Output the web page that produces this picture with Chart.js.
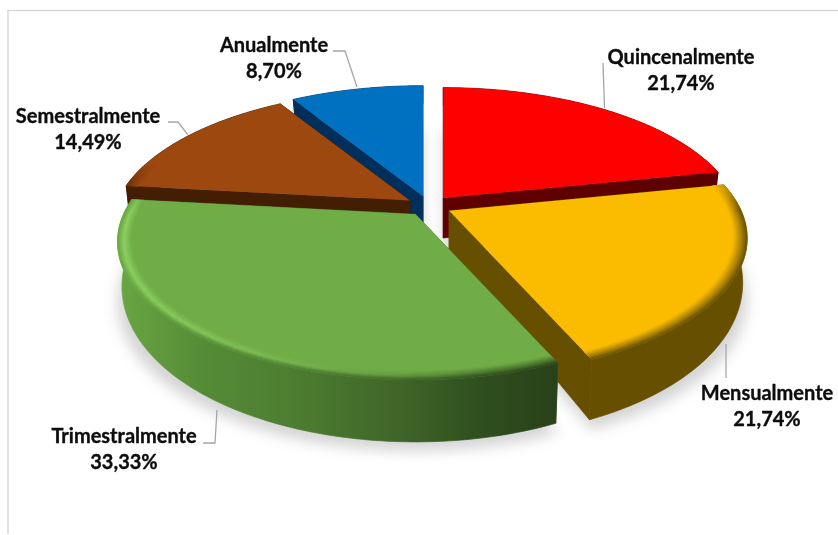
<!DOCTYPE html>
<html><head><meta charset="utf-8">
<style>html,body{margin:0;padding:0;background:#fff}#w{position:relative;width:838px;height:535px}</style>
<script src="https://cdn.jsdelivr.net/npm/chart.js@4"></script>
</head><body><div id="w"><canvas id="c" width="838" height="535"></canvas></div>
<script>
const categories = ['Quincenalmente','Mensualmente','Trimestralmente','Semestralmente','Anualmente'];
const percentages = [21.74,21.74,33.33,14.49,8.70];
const topColors = ['#ff0000','#fbbc00','#70ad47','#9c480f','#0070c0'];
const wallColors = ['#5e0000','#665000','#4c7c30','#431e02','#002f5c'];
const paintOrder = [4,0,3,1,2];
const labelBoxes = [[681,57.5],[767,393.5],[124,436.5],[88,116.5],[274,45.5]];
const leaders = [
 [[603,63],[604.5,108]],
 [[726,344],[726,378]],
 [[203,443],[215,443],[217,410]],
 [[168,122],[178,122],[188,135]],
 [[333,51],[345,51],[357,87]]
];
const greenWall = [[118,[106,166,67]],[200,[85,140,55]],[300,[76,124,48]],[400,[63,101,40]],[480,[47,79,31]],[550,[41,66,25]]];

const CX=429,CY=206,A=292,B=132.5,PERSP=0.2;
function proj(ox,oy,u,v,bottom){
  const w=1-PERSP*v; let x=A*u/w, y=B*v/w;
  if(bottom){ x*=0.985; y+=40+22*v; }
  return [CX+A*ox+x,CY+B*oy+y];
}
function hex(c){return [1,3,5].map(i=>parseInt(c.substr(i,2),16));}
function mix(a,b,t){return a.map((x,i)=>x+(b[i]-x)*t);}
function css(c){return 'rgb('+c.map(Math.round).join(',')+')';}
function clamp(t){return Math.max(0,Math.min(1,t));}
function greenAt(x){
  for(let i=1;i<greenWall.length;i++){
    if(x<=greenWall[i][0]){const p=greenWall[i-1],q=greenWall[i];
      return mix(p[1],q[1],clamp((x-p[0])/(q[0]-p[0])));}
  }
  return greenWall[greenWall.length-1][1];
}
function poly(ctx,pts,fill,stroke){
  ctx.beginPath();pts.forEach((p,i)=>i?ctx.lineTo(p[0],p[1]):ctx.moveTo(p[0],p[1]));ctx.closePath();
  ctx.fillStyle=fill;ctx.fill();
  if(stroke){ctx.strokeStyle=fill;ctx.lineWidth=0.7;ctx.stroke();}
}
const pie3d={
 id:'pie3d',
 beforeDatasetsDraw(chart){
  const ctx=chart.ctx, arcs=chart.getDatasetMeta(0).data;
  const geo=arcs.map(el=>{
    const s=el.getProps(['startAngle','endAngle','outerRadius']);
    const mid=(s.startAngle+s.endAngle)/2, k=el.options.offset/s.outerRadius;
    return {a0:s.startAngle,a1:s.endAngle,ox:Math.cos(mid)*k,oy:Math.sin(mid)*k,top:el.options.backgroundColor};
  });
  const pt=(g,a,r,bottom)=>proj(g.ox,g.oy,Math.cos(a)*r,Math.sin(a)*r,bottom);
  const arcAngles=g=>{const n=Math.ceil((g.a1-g.a0)/(Math.PI/180)),o=[];for(let i=0;i<=n;i++)o.push(g.a0+(g.a1-g.a0)*i/n);return o;};
  // ground shadow
  ctx.save();ctx.filter='blur(7px)';
  ctx.fillStyle='rgba(0,0,0,0.17)';
  geo.forEach(g=>{
    const pts=[[0,0]].concat(arcAngles(g).map(a=>[Math.cos(a),Math.sin(a)])).map(p=>{
      const q=proj(g.ox,g.oy,p[0],p[1]);return [q[0],q[1]+58+13*p[1]];});
    ctx.beginPath();pts.forEach((p,i)=>i?ctx.lineTo(p[0],p[1]):ctx.moveTo(p[0],p[1]));ctx.closePath();ctx.fill();
  });
  ctx.restore();
  const grad=ctx.createLinearGradient(118,0,550,0);
  greenWall.forEach(s=>grad.addColorStop((s[0]-118)/432,css(s[1])));
  paintOrder.forEach(i=>{
    const g=geo[i],ang=arcAngles(g),wall=wallColors[i],isGreen=i===2;
    // cut faces
    [g.a0,g.a1].forEach(a=>poly(ctx,[pt(g,0,0),pt(g,a,1),pt(g,a,1,true),pt(g,0,0,true)],wall,true));
    // outer wall
    const wallPts=ang.map(a=>pt(g,a,1)).concat(ang.slice().reverse().map(a=>pt(g,a,1,true)));
    poly(ctx,wallPts,isGreen?grad:wall,true);
    // top face
    poly(ctx,[pt(g,0,0)].concat(ang.map(a=>pt(g,a,1))),g.top,false);
    // bevelled rim
    const bands=8,width=0.045,topC=hex(g.top),wallC=hex(wall);
    for(let j=0;j<ang.length-1;j++){
      const am=(ang[j]+ang[j+1])/2,vm=Math.sin(am);
      const weight=clamp((vm+0.3)/0.3);
      if(weight<=0)continue;
      const xm=pt(g,am,1)[0];
      const wc=isGreen?greenAt(xm):wallC;
      let midC=mix(topC,wc,0.5);
      if(isGreen)midC=mix(midC,[140,208,96],clamp(1-(xm-118)/370));
      for(let b=0;b<bands;b++){
        const s=(b+0.5)/bands,r0=1-width+width*b/bands,r1=1-width+width*(b+1)/bands;
        const col=s<0.55?mix(topC,midC,s/0.55):mix(midC,wc,(s-0.55)/0.45);
        poly(ctx,[pt(g,ang[j],r0),pt(g,ang[j+1],r0),pt(g,ang[j+1],r1),pt(g,ang[j],r1)],css(mix(topC,col,weight)),true);
      }
    }
  });
  return false;
 },
 afterDraw(chart){
  const ctx=chart.ctx;
  ctx.save();
  ctx.strokeStyle='#d9d9d9';ctx.lineWidth=1.5;
  ctx.beginPath();ctx.moveTo(8,534);ctx.lineTo(8,10.5);ctx.lineTo(838,10.5);ctx.stroke();
  ctx.strokeStyle='#a6a6a6';ctx.lineWidth=1.3;
  leaders.forEach(l=>{ctx.beginPath();l.forEach((p,i)=>i?ctx.lineTo(p[0],p[1]):ctx.moveTo(p[0],p[1]));ctx.stroke();});
  ctx.fillStyle='#0d0d0d';ctx.strokeStyle='#0d0d0d';ctx.lineWidth=0.35;ctx.lineJoin='round';
  ctx.font='bold 20px Lato, sans-serif';ctx.textAlign='center';ctx.textBaseline='middle';
  categories.forEach((name,i)=>{
    const [x,y]=labelBoxes[i];
    const pct=percentages[i].toFixed(2).replace('.',',')+'%';
    ctx.fillText(name,x,y);ctx.strokeText(name,x,y);
    ctx.fillText(pct,x,y+26);ctx.strokeText(pct,x,y+26);
  });
  ctx.restore();
 }
};
new Chart(document.getElementById('c'),{
  type:'pie',
  data:{labels:categories,datasets:[{data:percentages,backgroundColor:topColors,borderWidth:0,offset:20}]},
  options:{responsive:false,animation:false,plugins:{legend:{display:false},tooltip:{enabled:false}}},
  plugins:[pie3d]
});
</script></body></html>
